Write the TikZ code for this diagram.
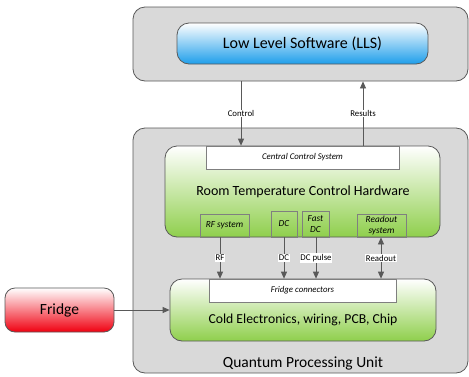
\documentclass[tikz,border=0pt]{standalone}
\usepackage{fontspec}
\setmainfont{Carlito}
\usetikzlibrary{arrows.meta}
\definecolor{boxgray}{HTML}{D9D9D9}
\definecolor{edgegray}{HTML}{595959}
\definecolor{subgray}{HTML}{7F7F7F}
\definecolor{llsblue}{HTML}{1E9EEA}
\definecolor{hwgreen}{HTML}{8FCF4C}
\definecolor{fridgered}{HTML}{F00010}
\tikzset{
  x=1pt, y=-1pt,
  container/.style={draw=edgegray, line width=0.8pt, fill=boxgray, rounded corners=12pt, inner sep=0pt},
  bluebox/.style={draw=edgegray, line width=0.8pt, rounded corners=12pt, top color=white, bottom color=llsblue, inner sep=0pt},
  greenbox/.style={draw=edgegray, line width=0.8pt, rounded corners=12pt, top color=white, bottom color=hwgreen, inner sep=0pt},
  redbox/.style={draw=edgegray, line width=0.8pt, rounded corners=10pt, top color=white, bottom color=fridgered, inner sep=0pt},
  whitebar/.style={draw=subgray, line width=0.7pt, fill=white, inner sep=0pt, font=\fontsize{8.8}{10}\selectfont\itshape},
  subbox/.style={draw=subgray, line width=0.8pt, inner sep=0pt, align=center, font=\fontsize{9.3}{10.5}\selectfont\itshape},
  arr/.style={draw=edgegray, line width=0.8pt, -{Triangle[length=7pt,width=6pt]}},
  darr/.style={draw=edgegray, line width=0.8pt, {Triangle[length=7pt,width=6pt]}-{Triangle[length=7pt,width=6pt]}},
  lbl/.style={fill=white, inner sep=0.8pt, font=\fontsize{8.8}{10}\selectfont},
  bigtext/.style={inner sep=0pt},
}
\begin{document}
\begin{tikzpicture}
\useasboundingbox (0,0) rectangle (469,376);
% containers
\node[container, minimum width=335pt, minimum height=74pt] (top) at (300.5,44) {};
\node[container, minimum width=335pt, minimum height=245pt] (qpu) at (300.5,250.5) {};
% LLS
\node[bluebox, minimum width=251pt, minimum height=41pt, font=\fontsize{16}{18}\selectfont] (lls) at (302.5,43.5) {Low Level Software (LLS)};
% room temperature hardware
\node[greenbox, minimum width=275pt, minimum height=91pt] (rtc) at (302.5,191.5) {};
\node[whitebar, minimum width=193pt, minimum height=23pt] (ccs) at (302.5,157.5) {Central Control System};
\node[bigtext, font=\fontsize{14}{16}\selectfont] (rtctext) at (303,192) {Room Temperature Control Hardware};
\node[subbox, minimum width=49pt, minimum height=23pt] (rfs) at (224.5,225.5) {RF system};
\node[subbox, minimum width=26pt, minimum height=26pt] (dcs) at (284,224) {DC};
\node[subbox, minimum width=27pt, minimum height=26pt] (fdc) at (315.5,224) {Fast\\DC};
\node[subbox, minimum width=49pt, minimum height=23pt] (ros) at (381.5,225.5) {Readout\\system};
% cold electronics
\node[greenbox, minimum width=266pt, minimum height=62pt] (cold) at (303,310) {};
\node[whitebar, minimum width=187pt, minimum height=23pt] (fc) at (302.5,290.5) {Fridge connectors};
\node[bigtext, font=\fontsize{13.7}{15}\selectfont] (coldtext) at (303,320) {Cold Electronics, wiring, PCB, Chip};
% fridge
\node[redbox, minimum width=109pt, minimum height=44pt, font=\fontsize{15.5}{17}\selectfont] (fridge) at (59.5,310) {Fridge};
% QPU label
\node[bigtext, font=\fontsize{15.5}{17}\selectfont] (qputext) at (303,363) {Quantum Processing Unit};
% connectors
\draw[arr] (top.south -| 241,0) -- node[lbl] {Control} (ccs.north -| 241,0);
\draw[arr] (ccs.north -| 363,0) -- node[lbl] {Results} (top.south -| 363,0);
\draw[arr] (rfs.south -| 220,0) -- node[lbl] {RF} (fc.north -| 220,0);
\draw[arr] (dcs.south -| 284,0) -- node[lbl] {DC} (fc.north -| 284,0);
\draw[arr] (fdc.south -| 316,0) -- node[lbl] {DC pulse} (fc.north -| 316,0);
\draw[darr] (ros.south -| 381,0) -- node[lbl] {Readout} (fc.north -| 381,0);
\draw[arr] (fridge.east) -- (cold.west);
\end{tikzpicture}
\end{document}
